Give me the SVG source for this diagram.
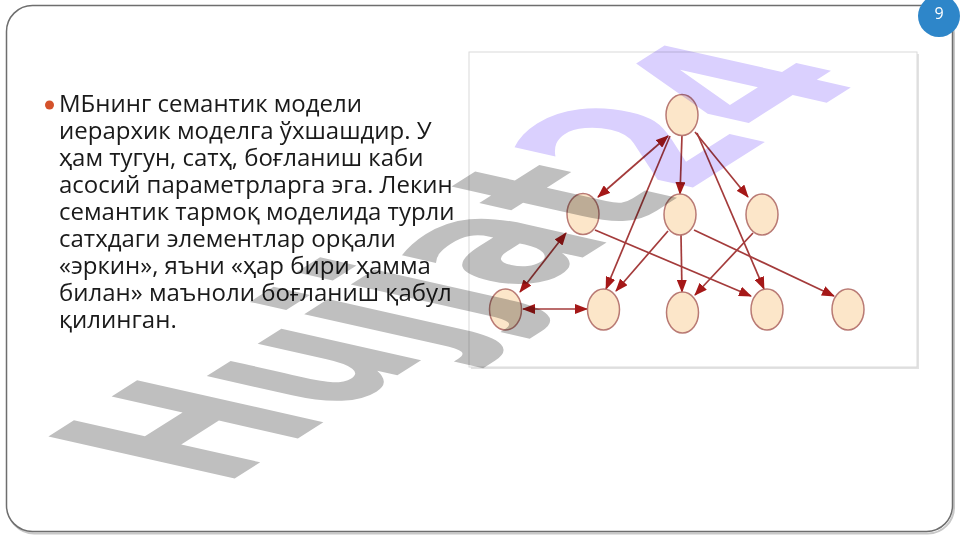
<svg xmlns="http://www.w3.org/2000/svg" width="961" height="540" viewBox="0 0 961 540">
<defs>
<style>
.body{font-family:"Open Sans","Noto Sans","DejaVu Sans",sans-serif;font-size:24px;fill:#1a1a1a}
.node ellipse{fill:#fce6c9;stroke:#b97a74;stroke-width:1.5}
.edge{stroke:#a43b3b;stroke-width:1.7;fill:none}
.wm{font-family:"DejaVu Sans",sans-serif;font-weight:bold;font-size:100px;mix-blend-mode:multiply}
</style>
<marker id="arr" markerUnits="userSpaceOnUse" markerWidth="13" markerHeight="10" refX="12" refY="5" orient="auto-start-reverse" viewBox="0 0 13 10">
<path d="M0,0 L13,5 L0,10 z" fill="#a51818"/>
</marker>
</defs>
<rect width="961" height="540" fill="#ffffff"/>
<g id="slide-frame">
<rect x="8" y="7.5" width="946" height="526" rx="26" fill="none" stroke="#c8c8c8" stroke-width="2"/>
<rect x="6.5" y="5.5" width="946" height="526" rx="26" fill="#ffffff" stroke="#6e6e6e" stroke-width="1.5"/>
</g>
<g id="page-number">
<circle cx="939" cy="16" r="21" fill="#2e86c9"/>
<text x="939" y="19" font-family="Open Sans,'DejaVu Sans',sans-serif" font-size="16" fill="#ffffff" text-anchor="middle">9</text>
</g>
<g id="bullet-text">
<circle cx="49.5" cy="105" r="4.5" fill="#d4522b"/>
<text class="body">
<tspan x="59" y="112">МБнинг семантик модели</tspan>
<tspan x="59" y="139">иерархик моделга ўхшашдир. У</tspan>
<tspan x="59" y="166">ҳам тугун, сатҳ, боғланиш каби</tspan>
<tspan x="59" y="193">асосий параметрларга эга. Лекин</tspan>
<tspan x="59" y="220">семантик тармоқ моделида турли</tspan>
<tspan x="59" y="247">сатхдаги элементлар орқали</tspan>
<tspan x="59" y="274">«эркин», яъни «ҳар бири ҳамма</tspan>
<tspan x="59" y="301">билан» маъноли боғланиш қабул</tspan>
<tspan x="59" y="328">қилинган.</tspan>
</text>
</g>
<g id="figure-frame">
<rect x="471" y="54" width="448" height="315" fill="#e2e2e2"/>
<rect x="469" y="52" width="448" height="315" fill="#ffffff" stroke="#dadada" stroke-width="1"/>
</g>
<g id="connectors">
<path class="edge" d="M668,136 L598,197" marker-start="url(#arr)" marker-end="url(#arr)"/>
<path class="edge" d="M670,136 L606,289" marker-end="url(#arr)"/>
<path class="edge" d="M682,135 L680,194" marker-end="url(#arr)"/>
<path class="edge" d="M695,132 L748,197" marker-end="url(#arr)"/>
<path class="edge" d="M697,133 L764,289" marker-end="url(#arr)"/>
<path class="edge" d="M566,233 L520,292" marker-start="url(#arr)" marker-end="url(#arr)"/>
<path class="edge" d="M523,309 L587,309" marker-start="url(#arr)" marker-end="url(#arr)"/>
<path class="edge" d="M595,230 L751,296" marker-end="url(#arr)"/>
<path class="edge" d="M668,231 L616,291" marker-end="url(#arr)"/>
<path class="edge" d="M681,235 L682,292" marker-end="url(#arr)"/>
<path class="edge" d="M694,230 L834,296" marker-end="url(#arr)"/>
<path class="edge" d="M753,233 L695,295" marker-end="url(#arr)"/>
</g>
<g id="n-top" class="node"><ellipse cx="682" cy="115" rx="16" ry="20.5"/></g>
<g id="n-mid-left" class="node"><ellipse cx="583" cy="214" rx="16" ry="20.5"/></g>
<g id="n-mid-center" class="node"><ellipse cx="680" cy="214.5" rx="16" ry="20.5"/></g>
<g id="n-mid-right" class="node"><ellipse cx="762" cy="214.5" rx="16" ry="20.5"/></g>
<g id="n-bot-1" class="node"><ellipse cx="505.5" cy="309.5" rx="16" ry="20.5"/></g>
<g id="n-bot-2" class="node"><ellipse cx="603.5" cy="309.5" rx="16" ry="20.5"/></g>
<g id="n-bot-3" class="node"><ellipse cx="682.5" cy="312.5" rx="16" ry="20.5"/></g>
<g id="n-bot-4" class="node"><ellipse cx="767" cy="309.5" rx="16" ry="20.5"/></g>
<g id="n-bot-5" class="node"><ellipse cx="848" cy="309.5" rx="16" ry="20.5"/></g>
<g id="watermark">
<text class="wm" transform="matrix(1.358 -0.862 2.555 0.576 222.2 486.4)"><tspan fill="#bfbfbf">Hujjat</tspan><tspan fill="#dad0fe">24</tspan></text>
</g>
</svg>
